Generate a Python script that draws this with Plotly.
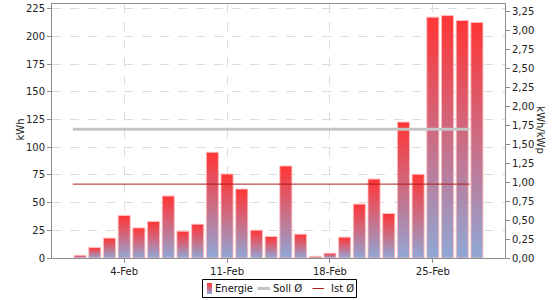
import plotly.graph_objects as go
from datetime import datetime, timedelta

days = [datetime(2015, 2, d) for d in range(1, 29)]
energie = [2.4, 9.4, 18, 38.4, 27.2, 33, 56, 24.2, 30.5, 95.5, 75.9, 62.3, 25.1, 19.4,
           83.1, 21.5, 1.5, 4.3, 18.8, 48.7, 71.3, 40.2, 122.8, 75.6, 217.6, 219, 214.6, 212.8]
kwp = 68.4
soll = 1.70
ist = sum(energie) / len(energie) / kwp
tick_days = [datetime(2015, 2, d) for d in (4, 11, 18, 25)]
legend_names = ["Energie", "Soll Ø", "Ist Ø"]

RED = (255, 53, 53)
MID = (204, 108, 132)
BLUE = (143, 168, 214)
grad = dict(type="vertical", colorscale=[[0, "rgb(%d,%d,%d)" % BLUE],
                                         [0.5, "rgb(%d,%d,%d)" % MID],
                                         [1, "rgb(%d,%d,%d)" % RED]])
half = timedelta(hours=0.41 * 24)

fig = go.Figure()
for i, (d, v) in enumerate(zip(days, energie)):
    fig.add_trace(go.Scatter(
        x=[d - half, d - half, d + half, d + half, d - half],
        y=[0, v, v, 0, 0],
        fill="toself", fillgradient=grad, mode="lines",
        line=dict(color="rgba(255,190,190,0.9)", width=1),
        name="Energie", showlegend=False, hoverinfo="skip"))

line_x = [days[0] - timedelta(hours=12), days[-1] - timedelta(hours=12)]
fig.add_trace(go.Scatter(x=line_x, y=[soll, soll], mode="lines", yaxis="y2",
                         line=dict(color="#c4c4c4", width=3), name="Soll Ø", showlegend=False))
fig.add_trace(go.Scatter(x=line_x, y=[ist, ist], mode="lines", yaxis="y2",
                         line=dict(color="#b01c1c", width=1), name="Ist Ø", showlegend=False))

# plot area in pixels
L, R, T, B = 52, 505, 4, 258
def px(x):
    return (x - L) / (R - L)
def py(y):
    return (B - y) / (B - T)

shapes = [dict(type="rect", xref="paper", yref="paper",
               x0=px(202.5), x1=px(356.5), y0=py(279.5), y1=py(297.5),
               line=dict(color="#000", width=1), fillcolor="white", layer="above")]
# gradient swatch for Energie
n = 11
for k in range(n):
    t = k / (n - 1)
    if t < 0.5:
        c = tuple(RED[j] + (MID[j] - RED[j]) * t * 2 for j in range(3))
    else:
        c = tuple(MID[j] + (BLUE[j] - MID[j]) * (t - 0.5) * 2 for j in range(3))
    shapes.append(dict(type="rect", xref="paper", yref="paper",
                       x0=px(207), x1=px(212), y0=py(283 + k), y1=py(284 + k),
                       line=dict(width=0), fillcolor="rgb(%d,%d,%d)" % c, layer="above"))
shapes.append(dict(type="line", xref="paper", yref="paper", x0=px(257.5), x1=px(270),
                   y0=py(288.5), y1=py(288.5), line=dict(color="#c4c4c4", width=3), layer="above"))
shapes.append(dict(type="line", xref="paper", yref="paper", x0=px(312.5), x1=px(324),
                   y0=py(288.5), y1=py(288.5), line=dict(color="#b01c1c", width=1), layer="above"))

ann = [
    dict(text="kWh", x=-0.086, y=0.504, xref="paper", yref="paper",
         textangle=-90, showarrow=False, font=dict(size=10)),
    dict(text="kWh/kWp", x=1.093, y=0.504, xref="paper", yref="paper",
         textangle=90, showarrow=False, font=dict(size=10)),
]
for name, x in zip(legend_names, (214, 272, 330)):
    ann.append(dict(text=name, x=px(x), y=py(288.5), xref="paper", yref="paper",
                    xanchor="left", yanchor="middle", showarrow=False, borderpad=0,
                    font=dict(size=10, color="#111")))

axis_col = "#8c8c8c"
fig.update_layout(
    width=560, height=300,
    margin=dict(l=L, r=560 - R, t=T, b=300 - B, autoexpand=False),
    paper_bgcolor="white", plot_bgcolor="white",
    font=dict(family="DejaVu Sans", size=10, color="#222"),
    separators=", ",
    showlegend=False,
    xaxis=dict(type="date",
               range=[datetime(2015, 1, 30, 2, 10), datetime(2015, 3, 1, 21, 50)],
               tickvals=tick_days, tickformat="%-d-%b",
               showgrid=True, gridcolor="#dcdcdc", griddash="dash", gridwidth=1,
               showline=True, linecolor=axis_col, mirror=True,
               ticks="outside", ticklen=4, tickcolor=axis_col, zeroline=False),
    yaxis=dict(range=[0, 229.5], dtick=25, tick0=0,
               showgrid=True, gridcolor="#dcdcdc", griddash="dash", gridwidth=1,
               showline=True, linecolor=axis_col, ticks="outside", ticklen=4,
               tickcolor=axis_col, zeroline=False),
    yaxis2=dict(range=[0, 229.5 / kwp], dtick=0.25, tick0=0, tickformat=".2f",
                overlaying="y", side="right", showgrid=False,
                showline=True, linecolor=axis_col, ticks="outside", ticklen=4,
                tickcolor=axis_col, zeroline=False),
    shapes=shapes,
    annotations=ann,
)
fig.write_html("out.html")
